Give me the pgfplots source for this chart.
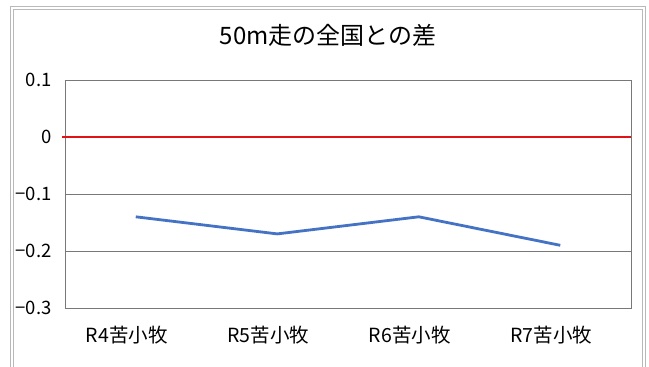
\documentclass[border=0pt]{standalone}
\usepackage{fontspec}
\setmainfont{Noto Sans CJK JP}
\usepackage{pgfplots}
\pgfplotsset{compat=1.18}
\definecolor{xblue}{RGB}{68,114,196}
\definecolor{xred}{RGB}{224,20,20}
\definecolor{xgrid}{RGB}{120,120,120}
\begin{document}
\begin{tikzpicture}[x=1pt,y=1pt]
\path[use as bounding box] (0,0) rectangle (649,367);
\fill[white] (0,0) rectangle (649,367);
\draw[gray!55, line width=0.8pt] (10,0) -- (10,361) -- (645,361) -- (645,0);
\draw[gray!55, line width=0.8pt] (13,0) -- (13,358) -- (642,358) -- (642,0);
\begin{axis}[at={(65pt,59pt)}, anchor=south west, scale only axis,
  width=566pt, height=228pt,
  xmin=-0.5, xmax=3.5, ymin=-0.3, ymax=0.1,
  xtick={0,1,2,3}, xticklabels={R4苦小牧,R5苦小牧,R6苦小牧,R7苦小牧},
  ytick={-0.3,-0.2,-0.1,0,0.1}, yticklabels={−0.3,−0.2,−0.1,0,0.1},
  major tick length=0pt,
  ymajorgrids, grid style={xgrid, line width=0.8pt},
  axis line style={xgrid, line width=0.8pt},
  tick label style={font=\fontsize{18.5}{22}\selectfont},
  xticklabel style={font=\fontsize{19.5}{22}\selectfont, yshift=-15pt, xshift=-9pt},
  yticklabel style={xshift=-10pt},
  title={50m走の全国との差},
  title style={font=\fontsize{24}{28}\selectfont, at={(0.5,1)}, anchor=center, xshift=-20pt, yshift=39pt},
  clip=false,
]
\addplot[xred, line width=2pt] coordinates {(-0.52,0) (3.5,0)};
\addplot[xblue, line width=2.8pt] coordinates {(0,-0.14) (1,-0.17) (2,-0.14) (3,-0.19)};
\end{axis}
\end{tikzpicture}
\end{document}
